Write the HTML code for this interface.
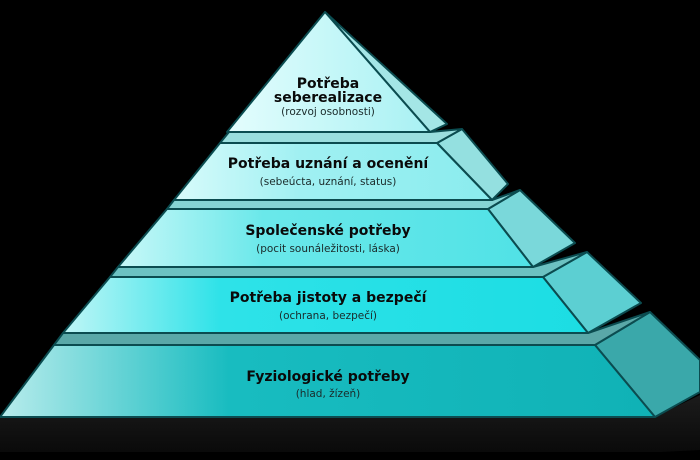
<!DOCTYPE html>
<html><head><meta charset="utf-8"><style>
html,body{margin:0;padding:0;background:#000;width:700px;height:460px;overflow:hidden}
svg{display:block}
.t{font-family:"DejaVu Sans","Liberation Sans",sans-serif;font-weight:bold;font-size:14px;fill:#0a0a0a;text-anchor:middle}
.s{font-family:"DejaVu Sans","Liberation Sans",sans-serif;font-size:10.5px;fill:#1a2a2a;text-anchor:middle}
</style></head><body>
<svg width="700" height="460" viewBox="0 0 700 460" xmlns="http://www.w3.org/2000/svg">
<defs>
<linearGradient id="sh" x1="0" y1="0" x2="0" y2="1"><stop offset="0" stop-color="#1c1c1c"/><stop offset="1" stop-color="#0a0a0a"/></linearGradient>
<linearGradient id="g1" x1="0" y1="0" x2="1" y2="0"><stop offset="0" stop-color="#e4fdfd"/><stop offset="1" stop-color="#a8f1f3"/></linearGradient>
<linearGradient id="g2" x1="0" y1="0" x2="1" y2="0"><stop offset="0" stop-color="#d8fbfb"/><stop offset="0.4" stop-color="#a0f0f2"/><stop offset="1" stop-color="#8aecee"/></linearGradient>
<linearGradient id="g3" x1="0" y1="0" x2="1" y2="0"><stop offset="0" stop-color="#c8f8f8"/><stop offset="0.35" stop-color="#6ae8ea"/><stop offset="1" stop-color="#50e2e6"/></linearGradient>
<linearGradient id="g4" x1="0" y1="0" x2="1" y2="0"><stop offset="0" stop-color="#c0f6f6"/><stop offset="0.3" stop-color="#2ee2e8"/><stop offset="1" stop-color="#1cdde3"/></linearGradient>
<linearGradient id="g5" x1="0" y1="0" x2="1" y2="0"><stop offset="0" stop-color="#b8ecec"/><stop offset="0.35" stop-color="#18bcc0"/><stop offset="1" stop-color="#10b2b6"/></linearGradient>
</defs>
<g stroke="#0b4c50" stroke-width="2" stroke-linejoin="round">
<!-- shadow -->
<polygon points="0,417 655,417 700,395 700,450 660,452 0,452" fill="url(#sh)" stroke="none"/>
<!-- side faces -->
<polygon points="325,12 447,124 430,132" fill="#a4e6e6"/>
<polygon points="437,143 462,129 508,184 492,200" fill="#94e0e0"/>
<polygon points="488,209 520,190 575,243 533,267" fill="#7ad8da"/>
<polygon points="543,277 587,252 641,303 588,333" fill="#5ccfd2"/>
<polygon points="595,345 650,312 700,360 700,392 655,417" fill="#3aa8aa"/>
<!-- strips -->
<polygon points="229,132 430,132 462,129 437,143 220,143" fill="#9adede"/>
<polygon points="174,200 492,200 520,190 488,209 167,209" fill="#86d4d4"/>
<polygon points="118,267 533,267 587,252 543,277 110,277" fill="#6cc2c2"/>
<polygon points="63,333 588,333 650,312 595,345 54,345" fill="#5aa8a8"/>
<!-- fronts -->
<polygon points="325,12 430,132 227,132" fill="url(#g1)"/>
<polygon points="220,143 437,143 492,200 174,200" fill="url(#g2)"/>
<polygon points="167,209 488,209 533,267 118,267" fill="url(#g3)"/>
<polygon points="110,277 543,277 588,333 63,333" fill="url(#g4)"/>
<polygon points="54,345 595,345 655,417 0,417" fill="url(#g5)"/>
</g>
<text class="t" x="328" y="88">Potřeba</text>
<text class="t" x="328" y="102">seberealizace</text>
<text class="s" x="328" y="115">(rozvoj osobnosti)</text>
<text class="t" x="328" y="168">Potřeba uznání a ocenění</text>
<text class="s" x="328" y="185">(sebeúcta, uznání, status)</text>
<text class="t" x="328" y="235">Společenské potřeby</text>
<text class="s" x="328" y="252">(pocit sounáležitosti, láska)</text>
<text class="t" x="328" y="302">Potřeba jistoty a bezpečí</text>
<text class="s" x="328" y="319">(ochrana, bezpečí)</text>
<text class="t" x="328" y="381">Fyziologické potřeby</text>
<text class="s" x="328" y="397">(hlad, žízeň)</text>
</svg>
</body></html>
